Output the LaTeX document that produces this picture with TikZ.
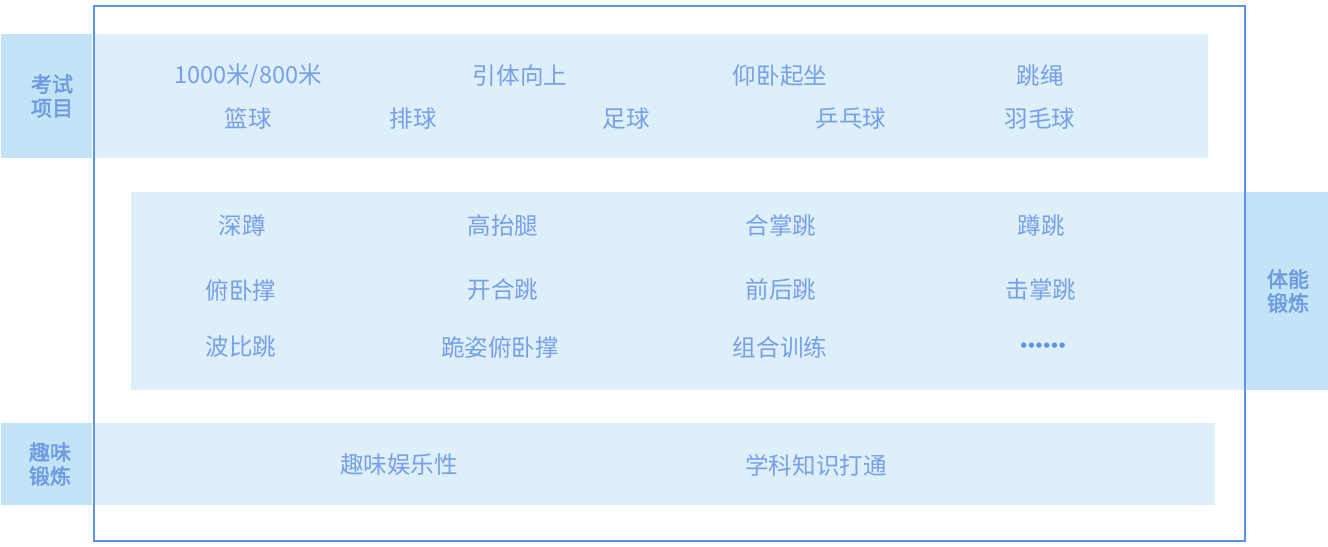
\documentclass[tikz,border=0pt]{standalone}
\usepackage{fontspec}
\setmainfont{Noto Sans CJK SC}
\newfontfamily\tagfont[FakeBold=2]{Noto Sans CJK SC}
\newfontfamily\dotfont{DejaVu Sans}
\newcommand{\dotgap}{\kern-1.8pt}
\definecolor{framecol}{HTML}{5B93E5}
\definecolor{bandlight}{HTML}{DDEFF9}
\definecolor{banddark}{HTML}{C3E3F6}
\definecolor{itemcol}{HTML}{789FEA}
\definecolor{tagcol}{HTML}{6E9BE0}
\definecolor{dotcol}{HTML}{5E95E8}

\begin{document}
\begin{tikzpicture}[x=0.02cm, y=-0.02cm,
    item/.style={text=itemcol, font=\fontsize{13.4}{15}\selectfont, inner sep=0pt},
    tag/.style={text=tagcol, font=\tagfont\fontsize{12}{13.6}\selectfont, align=center, inner sep=0pt}]
        \useasboundingbox (0, 0) rectangle (1328, 547);

        % Exam band
        \fill[bandlight] (94, 34) rectangle (1208, 158);
        \fill[banddark] (1, 34) rectangle (92, 158);
        \node[tag] (examtag) at (52, 96) {考试\\项目};
        \node[item] (run) at (248, 76) {1000米/800米};
        \node[item] (pullup) at (520, 76) {引体向上};
        \node[item] (situp) at (780, 76) {仰卧起坐};
        \node[item] (rope) at (1040, 76) {跳绳};
        \node[item] (basket) at (248, 119) {篮球};
        \node[item] (volley) at (413, 119) {排球};
        \node[item] (soccer) at (626, 119) {足球};
        \node[item] (pingpong) at (851, 119) {乒乓球};
        \node[item] (badminton) at (1040, 119) {羽毛球};

        % Fitness band
        \fill[bandlight] (131, 192) rectangle (1245, 390);
        \fill[banddark] (1245, 192) rectangle (1328, 390);
        \node[tag] (fittag) at (1288, 291) {体能\\锻炼};
        \node[item] (squat) at (242, 226) {深蹲};
        \node[item] (knee) at (503, 226) {高抬腿};
        \node[item] (clapjump) at (781, 226) {合掌跳};
        \node[item] (squatjump) at (1041, 226) {蹲跳};
        \node[item] (pushup) at (241, 290) {俯卧撑};
        \node[item] (jack) at (503, 290) {开合跳};
        \node[item] (frontback) at (781, 290) {前后跳};
        \node[item] (highfive) at (1041, 290) {击掌跳};
        \node[item] (burpee) at (241, 347) {波比跳};
        \node[item] (kneepush) at (500, 347) {跪姿俯卧撑};
        \node[item] (combo) at (780, 347) {组合训练};
        \node[item, text=dotcol, font=\dotfont\fontsize{10.5}{12}\selectfont] (more) at (1043, 348)
            {•\dotgap•\dotgap•\dotgap•\dotgap•\dotgap•};

        % Fun band
        \fill[bandlight] (94, 423) rectangle (1215, 505);
        \fill[banddark] (1, 423) rectangle (92, 505);
        \node[tag] (funtag) at (50, 464) {趣味\\锻炼};
        \node[item] (play) at (399, 465) {趣味娱乐性};
        \node[item] (subject) at (816, 465) {学科知识打通};

        % Outer frame
        \draw[framecol, line width=1.3pt] (94, 6) rectangle (1245, 541);
    \end{tikzpicture}
\end{document}
